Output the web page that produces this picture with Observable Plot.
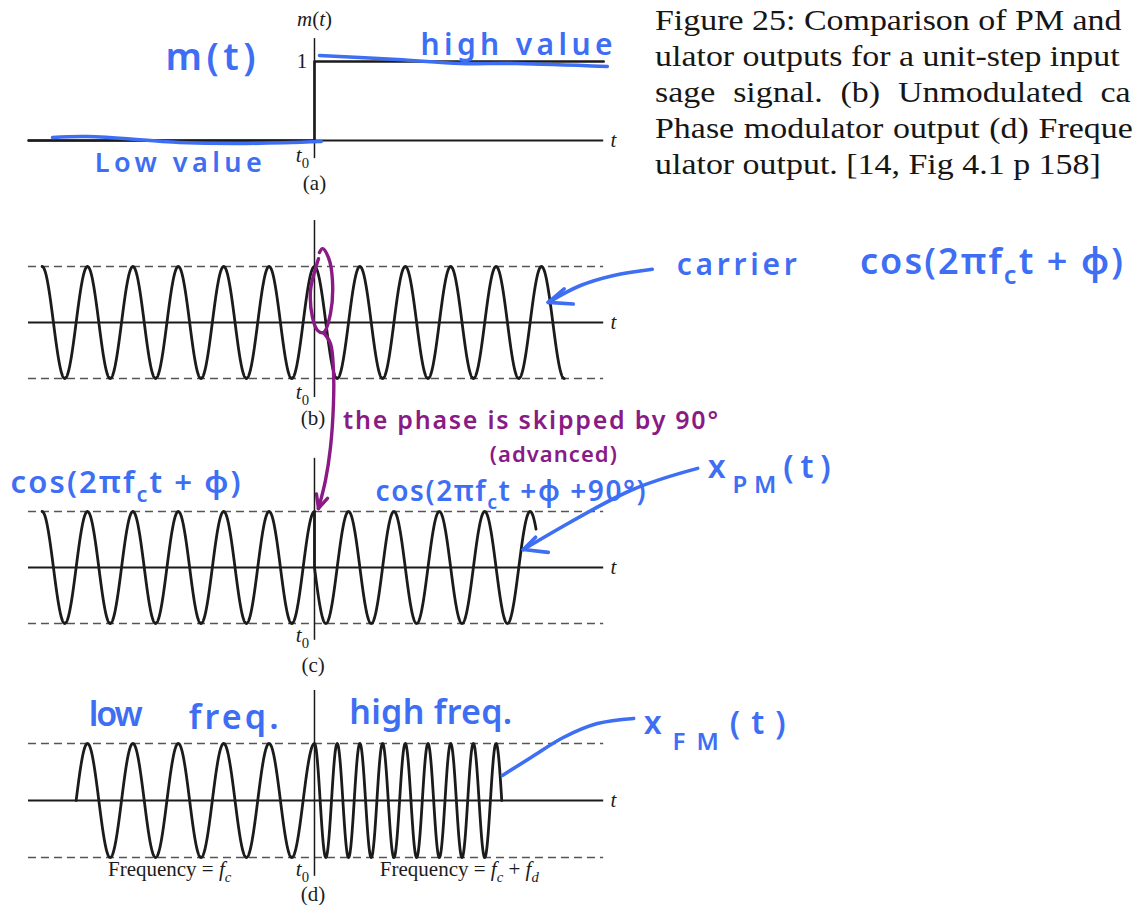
<!DOCTYPE html>
<html>
<head>
<meta charset="utf-8">
<script src="https://cdn.jsdelivr.net/npm/d3@7"></script>
<script src="https://cdn.jsdelivr.net/npm/@observablehq/plot@0.6"></script>
<style>
  html, body { margin: 0; padding: 0; background: #fff; overflow: hidden; }
  #figure { position: relative; width: 1133px; height: 905px; overflow: hidden; background: #fff; }
  .panel { position: absolute; left: 0; }
  .cap { position: absolute; left: 655px; font-family: "Liberation Serif", serif; font-size: 29px; color: #161616;
         white-space: pre; line-height: 1; transform: scaleX(1.17); transform-origin: 0 0; }
</style>
</head>
<body>
<div id="figure"></div>
<script>
// ---- signal description (time in carrier periods, t0 = 0; amplitude normalised) ----
const axisSpan = [-6.3, 6.37];            // extent of the time axes and dashed guides
const messageTimes = [-6.3, 0, 6.37];     // unit step m(t)
const messageLevels = [0, 1, 1];

const carrierSpans = [[-6, 5.5]];          // (b) unmodulated carrier
const carrierFreqs = [1];
const carrierPhases = [0];

const pmSpans = [[-6, 0], [0, 4.88]];      // (c) phase modulator: phase jumps +90° at t0
const pmFreqs = [1, 1];
const pmPhases = [0, 90];

const fmSpans = [[-5.25, 0], [0, 4.125]];  // (d) frequency modulator: fc -> fc + fd at t0
const fmFreqs = [1, 2];
const fmPhases = [0, 0];

const captionLines = [
  "Figure 25: Comparison of PM and",
  "ulator outputs for a unit-step input",
  "sage signal. (b) Unmodulated ca",
  "Phase modulator output (d) Freque",
  "ulator output. [14, Fig 4.1 p 158]"
];
// justified lines get extra space between words
const captionWordGap = [0, 0, 8, 1, 0];

// ---- styling ----
const ink = "#1b1b1b";
const blue = "#3d6ef3";
const purple = "#8a1a86";
const serif = "Liberation Serif";
const hand = "Noto Sans";
const xDomain = [-6.916, 18.04];

function wave(spans, freqs, phases) {
  const pts = [];
  spans.forEach(([a, b], i) => {
    const n = Math.round((b - a) / 0.004);
    for (let k = 0; k <= n; k++) {
      const t = a + (b - a) * k / n;
      pts.push({t, v: Math.cos(2 * Math.PI * freqs[i] * t + phases[i] * Math.PI / 180)});
    }
  });
  return pts;
}
const message = messageTimes.map((t, i) => ({t, v: messageLevels[i]}));

// small markup for labels: *{italic}  _{sub}  __{low sub}  %{italic sub}
const NS = "http://www.w3.org/2000/svg";
function richText(svg, fits) {
  svg.querySelectorAll("text").forEach(el => {
    const raw = el.textContent;
    const fs = parseFloat(getComputedStyle(el).fontSize);
    const re = /(__|_|\*|%)\{([^}]*)\}/g;
    if (re.test(raw)) {
      re.lastIndex = 0;
      el.textContent = "";
      let last = 0, m, shift = 0;
      const add = (s, o = {}) => {
        const ts = document.createElementNS(NS, "tspan");
        ts.textContent = s;
        const target = o.shift || 0;
        if (target !== shift) ts.setAttribute("dy", target - shift);
        shift = target;
        if (o.size) ts.setAttribute("font-size", o.size);
        if (o.italic) ts.setAttribute("font-style", "italic");
        el.appendChild(ts);
      };
      while ((m = re.exec(raw))) {
        if (m.index > last) add(raw.slice(last, m.index));
        const k = m[1];
        if (k === "*") add(m[2], {italic: true});
        else if (k === "_") add(m[2], {shift: 0.28 * fs, size: 0.7 * fs});
        else if (k === "__") add(m[2], {shift: 0.5 * fs, size: 0.75 * fs});
        else add(m[2], {shift: 0.28 * fs, size: 0.7 * fs, italic: true});
        last = re.lastIndex;
      }
      if (last < raw.length) add(raw.slice(last));
    }
    if (fits && fits[raw]) {
      el.setAttribute("textLength", fits[raw]);
      el.setAttribute("lengthAdjust", "spacing");
    }
  });
}

const figure = document.getElementById("figure");

function panel({top, height, y0, unit, marks, fits}) {
  const svg = Plot.plot({
    width: 1133,
    height,
    margin: 0,
    x: {domain: xDomain, range: [0, 1133], axis: null},
    y: {domain: [-1, 1], range: [y0 + unit, y0 - unit], axis: null},
    style: {background: "transparent", overflow: "visible"},
    marks
  });
  svg.classList.add("panel");
  svg.style.top = top + "px";
  svg.style.position = "absolute";
  figure.appendChild(svg);
  richText(svg, fits);
}

const serifText = (label, x, y, opts = {}) =>
  Plot.text([label], {text: d => d, x, y, fontFamily: serif, fontSize: 21, fill: ink, ...opts});
const handText = (label, x, y, size, color, opts = {}) =>
  Plot.text([label], {text: d => d, x, y, fontFamily: hand, fontSize: size, fontWeight: 600, fill: color, ...opts});
const stroke = (pts, color, w = 3.6) =>
  Plot.line(pts, {x: d => d[0], y: d => d[1], stroke: color, strokeWidth: w, curve: "catmull-rom", strokeLinecap: "round", strokeLinejoin: "round"});

const timeAxis = () => [
  Plot.ruleY([0], {x1: axisSpan[0], x2: axisSpan[1], stroke: ink, strokeWidth: 1.8}),
  serifText("*{t}", 6.52, 0, {textAnchor: "start"})
];
const guides = () => Plot.ruleY([-1, 1], {x1: axisSpan[0], x2: axisSpan[1], stroke: "#555", strokeWidth: 1.3, strokeDasharray: "8,5"});
const signal = pts => Plot.line(pts, {x: "t", y: "v", stroke: ink, strokeWidth: 2.8});

// (a) message signal
panel({
  top: 0, height: 200, y0: 140, unit: 79,
  fits: {"m(t)": 90, "high value": 192, "Low value": 167},
  marks: [
    ...timeAxis(),
    Plot.ruleX([0], {y1: -0.23, y2: 1.29, stroke: ink, strokeWidth: 1.5}),
    Plot.line(message, {x: "t", y: "v", curve: "step-after", stroke: ink, strokeWidth: 2.6}),
    serifText("*{m}(*{t})", 0, 1.53),
    serifText("1", -0.16, 1, {textAnchor: "end"}),
    serifText("*{t}_{0}", -0.12, -0.19, {textAnchor: "end"}),
    serifText("(a)", 0, -0.54),
    stroke([[0.11, 1.076], [1.83, 1.025], [3.22, 0.975], [4.45, 0.975], [6.45, 0.937]], blue),
    stroke([[-5.77, 0.038], [-5.0, 0.05], [-2.97, -0.025], [-1.67, -0.038], [0.15, -0.013]], blue),
    handText("m(t)", -2.29, 1.05, 38, blue),
    handText("high value", 4.45, 1.2, 30, blue),
    handText("Low value", -3.0, -0.29, 27, blue)
  ]
});

// (b) unmodulated carrier
panel({
  top: 200, height: 230, y0: 122, unit: 56,
  fits: {"carrier": 120, "cos(2πf_{c}t + ϕ)": 263, "the phase is skipped by 90°": 375, "(advanced)": 127},
  marks: [
    guides(),
    ...timeAxis(),
    Plot.ruleX([0], {y1: -1.34, y2: 1.82, stroke: ink, strokeWidth: 1.5}),
    signal(wave(carrierSpans, carrierFreqs, carrierPhases)),
    serifText("*{t}_{0}", -0.12, -1.24, {textAnchor: "end"}),
    serifText("(b)", -0.03, -1.71),
    // purple note: loop around t0 and arrow down to (c)
    stroke([[0.088, 1.14], [0.0, 0.9], [-0.088, 0.57], [-0.044, 0.09], [0.066, -0.14], [0.198, -0.18],
            [0.352, 0.16], [0.396, 0.75], [0.308, 1.16], [0.176, 1.32], [0.11, 1.25]], purple, 3.4),
    stroke([[0.198, -0.18], [0.352, -0.375], [0.418, -0.857], [0.418, -1.446], [0.352, -2.232], [0.242, -2.82], [0.088, -3.32]], purple, 3.4),
    stroke([[0.044, -3.06], [0.088, -3.32]], purple, 3.4),
    stroke([[0.286, -3.14], [0.088, -3.32]], purple, 3.4),
    handText("the phase is skipped by 90°", 4.76, -1.75, 25, purple),
    handText("(advanced)", 5.26, -2.36, 22, purple),
    // blue note: carrier
    stroke([[7.44, 0.95], [6.59, 0.84], [5.86, 0.66], [5.15, 0.36]], blue),
    stroke([[5.50, 0.60], [5.15, 0.36]], blue),
    stroke([[5.70, 0.33], [5.15, 0.36]], blue),
    handText("carrier", 9.30, 1.02, 30, blue),
    handText("cos(2πf_{c}t + ϕ)", 14.91, 1.07, 36, blue)
  ]
});

// (c) phase modulator output
panel({
  top: 430, height: 245, y0: 137, unit: 56,
  fits: {"cos(2πf_{c}t + ϕ)": 230, "cos(2πf_{c}t +ϕ +90°)": 270, "x__{PM}(t)": 123},
  marks: [
    guides(),
    ...timeAxis(),
    Plot.ruleX([0], {y1: -1.30, y2: 1.95, stroke: ink, strokeWidth: 1.5}),
    signal(wave(pmSpans, pmFreqs, pmPhases)),
    serifText("*{t}_{0}", -0.12, -1.21, {textAnchor: "end"}),
    serifText("(c)", -0.03, -1.75),
    handText("cos(2πf_{c}t + ϕ)", -4.16, 1.5, 31, blue),
    handText("cos(2πf_{c}t +ϕ +90°)", 4.32, 1.34, 28, blue),
    stroke([[8.44, 1.77], [6.96, 1.375], [4.60, 0.32]], blue),
    stroke([[4.87, 0.54], [4.60, 0.32]], blue),
    stroke([[5.15, 0.27], [4.60, 0.32]], blue),
    handText("x__{PM}(t)", 8.66, 1.79, 32, blue, {textAnchor: "start"})
  ]
});

// (d) frequency modulator output
panel({
  top: 675, height: 230, y0: 125, unit: 57,
  fits: {"low": 54, "freq.": 90, "high freq.": 163, "x__{FM}(t)": 142},
  marks: [
    guides(),
    ...timeAxis(),
    Plot.ruleX([0], {y1: -1.33, y2: 1.93, stroke: ink, strokeWidth: 1.5}),
    signal(wave(fmSpans, fmFreqs, fmPhases)),
    serifText("*{t}_{0}", -0.12, -1.2, {textAnchor: "end"}),
    serifText("Frequency = *{f}%{c}", -3.19, -1.21),
    serifText("Frequency = *{f}%{c} + *{f}%{d}", 3.19, -1.21),
    serifText("(d)", -0.03, -1.65),
    handText("low", -4.38, 1.49, 34, blue),
    handText("freq.", -1.78, 1.44, 34, blue),
    handText("high freq.", 2.56, 1.54, 34, blue),
    stroke([[4.14, 0.44], [4.76, 0.75], [5.48, 1.105], [6.23, 1.35], [7.03, 1.44]], blue),
    handText("x__{FM}(t)", 7.25, 1.35, 32, blue, {textAnchor: "start"})
  ]
});

// caption block
captionLines.forEach((line, i) => {
  const div = document.createElement("div");
  div.className = "cap";
  div.textContent = line;
  div.style.top = (6 + 36 * i) + "px";
  div.style.wordSpacing = captionWordGap[i] + "px";
  figure.appendChild(div);
});
</script>
</body>
</html>
